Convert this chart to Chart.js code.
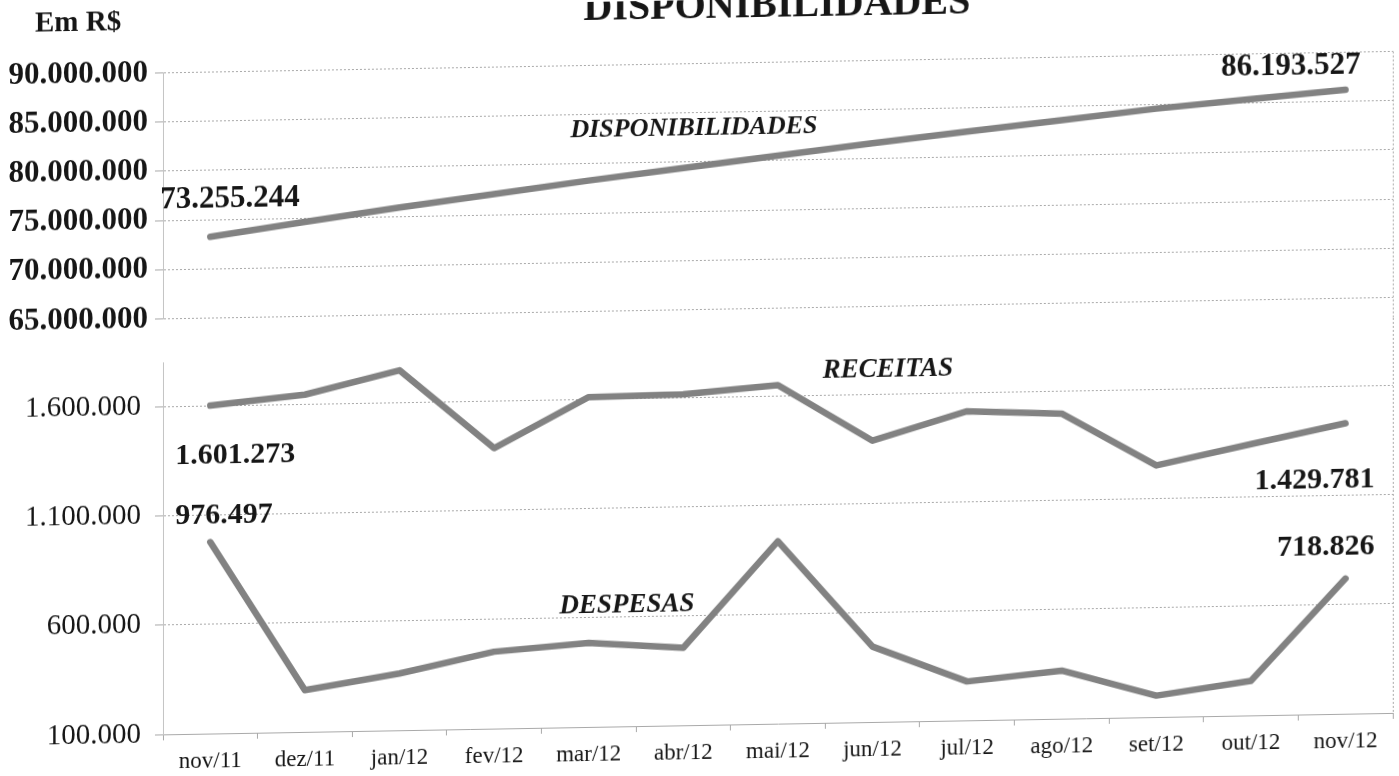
<!DOCTYPE html>
<html>
<head>
<meta charset="utf-8">
<title>Disponibilidades</title>
<script src="https://cdn.jsdelivr.net/npm/chart.js@4.4.1/dist/chart.umd.min.js"></script>
<style>
  html, body { margin: 0; padding: 0; background: #fff; }
  #page { position: relative; width: 1399px; height: 776px; overflow: hidden; background: #fff; }
  /* the scanned sheet is slightly skewed: right side sits higher */
  #sheet { position: absolute; left: 0; top: 0; width: 1399px; height: 776px;
           transform: skewY(-1deg); transform-origin: 700px 388px; }
  .box { position: absolute; left: 0; width: 1399px; }
  #topBox { top: 0; height: 330px; }
  #botBox { top: 330px; height: 446px; }
</style>
</head>
<body>
<div id="page">
  <div id="sheet">
    <div class="box" id="topBox"><canvas id="topChart"></canvas></div>
    <div class="box" id="botBox"><canvas id="botChart"></canvas></div>
  </div>
</div>
<script>
// --- data ---
const months = ['nov/11', 'dez/11', 'jan/12', 'fev/12', 'mar/12', 'abr/12', 'mai/12',
                'jun/12', 'jul/12', 'ago/12', 'set/12', 'out/12', 'nov/12'];
const disponibilidades = [73255244, 74600000, 75900000, 77100000, 78300000, 79400000, 80500000,
                          81600000, 82600000, 83600000, 84600000, 85400000, 86193527];
const receitas = [1601273, 1644000, 1748000, 1384000, 1610000, 1615000, 1650000,
                  1388000, 1515000, 1497000, 1252000, 1342000, 1429781];
const despesas = [976497, 291000, 360000, 452000, 485000, 455000, 935000,
                  445000, 278000, 320000, 198000, 258000, 718826];
const topTicks = [65000000, 70000000, 75000000, 80000000, 85000000, 90000000];
const bottomTicks = [100000, 600000, 1100000, 1600000];

// --- look ---
const FONT = "'Liberation Serif', 'Times New Roman', serif";
const INK = '#161616';
const LINE = '#828282';
const GRID = '#a9a9a9';
const PLOT_LEFT = 163;

const fmt = v => Math.round(v).toString().replace(/\B(?=(\d{3})+(?!\d))/g, '.');

// free text on the sheet (titles, series names, value labels next to points)
const sheetText = {
    id: 'sheetText',
    afterDatasetsDraw(chart, args, opts) {
        const ctx = chart.ctx;
        ctx.save();
        ctx.fillStyle = INK;
        ctx.textBaseline = 'alphabetic';
        (opts.items || []).forEach(it => {
            let x = it.x, y = it.y;
            if (it.point) {
                const pt = chart.getDatasetMeta(it.point[0]).data[it.point[1]];
                x = pt.x + it.dx;
                y = pt.y + it.dy;
            }
            ctx.font = it.font;
            ctx.textAlign = it.align || 'left';
            ctx.fillText(it.text, x, y);
        });
        ctx.restore();
    }
};

// thin frame line on the right side; it runs on across the gap between the two plots
const rightFrame = {
    id: 'rightFrame',
    afterDraw(chart, args, opts) {
        const { ctx, chartArea } = chart;
        const top = opts.toTop ? 0 : chartArea.top;
        const bottom = opts.toBottom ? chart.height : chartArea.bottom;
        ctx.save();
        ctx.strokeStyle = GRID;
        ctx.lineWidth = 1;
        ctx.setLineDash([2, 2]);
        ctx.beginPath();
        ctx.moveTo(chartArea.right + 0.5, top);
        ctx.lineTo(chartArea.right + 0.5, bottom);
        ctx.stroke();
        ctx.restore();
    }
};

// keep the plot area exactly where the layout padding puts it
const fixY = s => { s.width = PLOT_LEFT; s.paddingTop = 0; s.paddingBottom = 0; };

const lineStyle = {
    borderColor: LINE,
    borderWidth: 6.5,
    pointRadius: 0,
    tension: 0,
    borderJoinStyle: 'round',
    borderCapStyle: 'round',
    clip: false,
};

const bold = size => `bold ${size}px ${FONT}`;
const boldItalic = size => `italic bold ${size}px ${FONT}`;

// ---------- top chart: disponibilidades ----------
new Chart(document.getElementById('topChart'), {
    type: 'line',
    data: {
        labels: months,
        datasets: [{ label: 'DISPONIBILIDADES', data: disponibilidades, ...lineStyle }],
    },
    options: {
        responsive: true,
        maintainAspectRatio: false,
        animation: false,
        layout: { padding: { top: 63.5, bottom: 20.5, left: 0, right: 6 } },
        scales: {
            x: {
                display: false,
                offset: true,
                grid: { offset: true },
            },
            y: {
                min: topTicks[0],
                max: topTicks[topTicks.length - 1],
                afterBuildTicks: s => { s.ticks = topTicks.map(v => ({ value: v })); },
                afterFit: fixY,
                ticks: { color: INK, font: { family: FONT, size: 31, weight: 'bold' }, padding: 7, callback: v => fmt(v) },
                grid: { color: GRID, lineWidth: 1, tickLength: 8, tickColor: GRID },
                border: { display: true, color: '#c4c4c4', dash: [2, 2] },
            },
        },
        plugins: {
            legend: { display: false },
            tooltip: { enabled: false },
            rightFrame: { toBottom: true },
            sheetText: {
                items: [
                    { text: 'Em R$', x: 35, y: 20, font: bold(29) },
                    { text: 'DISPONIBILIDADES', x: 777, y: 18, font: bold(40), align: 'center' },
                    { text: 'DISPONIBILIDADES', x: 694, y: 135, font: boldItalic(26), align: 'center' },
                    { text: fmt(disponibilidades[0]), point: [0, 0], dx: -50, dy: -29.5, font: bold(31) },
                    { text: fmt(disponibilidades[12]), point: [0, 12], dx: 15, dy: -15.7, font: bold(31), align: 'right' },
                ],
            },
        },
    },
    plugins: [sheetText, rightFrame],
});

// ---------- bottom chart: receitas and despesas ----------
new Chart(document.getElementById('botChart'), {
    type: 'line',
    data: {
        labels: months,
        datasets: [
            { label: 'RECEITAS', data: receitas, ...lineStyle },
            { label: 'DESPESAS', data: despesas, ...lineStyle },
        ],
    },
    options: {
        responsive: true,
        maintainAspectRatio: false,
        animation: false,
        layout: { padding: { top: 23.7, bottom: 0, left: 0, right: 6 } },
        scales: {
            x: {
                offset: true,
                afterFit: s => { s.height = 51; s.paddingLeft = 0; s.paddingRight = 0; },
                ticks: { color: INK, font: { family: FONT, size: 23 }, padding: 8, maxRotation: 0, autoSkip: false },
                grid: { offset: true, drawOnChartArea: false, tickLength: 6, color: GRID, tickColor: GRID },
                border: { display: true, color: GRID },
            },
            y: {
                min: 100000,
                max: 1800000,
                afterBuildTicks: s => { s.ticks = bottomTicks.map(v => ({ value: v })); },
                afterFit: fixY,
                ticks: { color: INK, font: { family: FONT, size: 29 }, padding: 14, callback: v => fmt(v) },
                grid: { color: GRID, lineWidth: 1, tickLength: 8, tickColor: GRID },
                border: { display: true, color: '#c4c4c4', dash: [2, 2] },
            },
        },
        plugins: {
            legend: { display: false },
            tooltip: { enabled: false },
            rightFrame: { toTop: true },
            sheetText: {
                items: [
                    { text: 'RECEITAS', x: 888, y: 50.3, font: boldItalic(27), align: 'center' },
                    { text: 'DESPESAS', x: 627, y: 280.7, font: boldItalic(27), align: 'center' },
                    { text: fmt(receitas[0]), point: [0, 0], dx: -35, dy: 58, font: bold(30) },
                    { text: fmt(despesas[0]), point: [1, 0], dx: -35, dy: -18.5, font: bold(30) },
                    { text: fmt(receitas[12]), point: [0, 12], dx: 29, dy: 64, font: bold(30), align: 'right' },
                    { text: fmt(despesas[12]), point: [1, 12], dx: 29, dy: -24, font: bold(30), align: 'right' },
                ],
            },
        },
    },
    plugins: [sheetText, rightFrame],
});
</script>
</body>
</html>
